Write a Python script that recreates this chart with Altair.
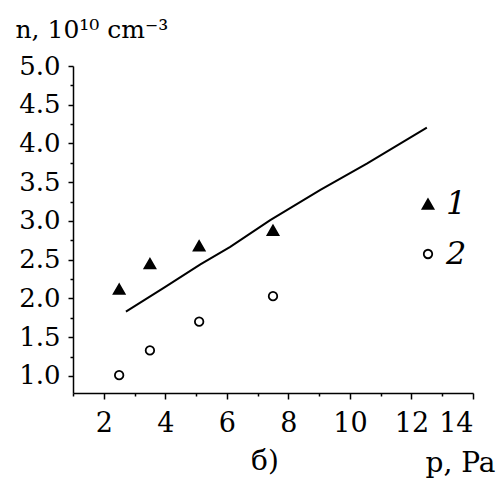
import altair as alt
import pandas as pd

# ---- data ----
p_series1 = [2.5, 3.5, 5.1, 7.5]
n_series1 = [2.12, 2.45, 2.68, 2.88]
p_series2 = [2.5, 3.5, 5.1, 7.5]
n_series2 = [1.01, 1.33, 1.70, 2.03]
series_names = ["1", "2"]

p_fit = [2.72, 4.0, 5.14, 6.11, 7.41, 9.04, 10.55, 12.5]
n_fit = [1.83, 2.15, 2.44, 2.665, 3.01, 3.40, 3.74, 4.205]

x_major = [2, 4, 6, 8, 10, 12, 14]
x_minor = [1, 3, 5, 7, 9, 11, 13]
y_major = [1.0, 1.5, 2.0, 2.5, 3.0, 3.5, 4.0, 4.5, 5.0]
y_minor = [1.25, 1.75, 2.25, 2.75, 3.25, 3.75, 4.25, 4.75]

points = pd.DataFrame({
    "p": p_series1 + p_series2,
    "n": n_series1 + n_series2,
    "series": [series_names[0]] * len(p_series1) + [series_names[1]] * len(p_series2),
})
fit = pd.DataFrame({"p": p_fit, "n": n_fit})

FONT = "DejaVu Serif"
xscale = alt.Scale(domain=[1, 14], nice=False, zero=False)
yscale = alt.Scale(domain=[0.78, 5.0], nice=False, zero=False)

x_axis = alt.Axis(
    values=x_major, format="d", orient="bottom", grid=False,
    tickSize=6, tickWidth=1.5, tickColor="black",
    domainColor="black", domainWidth=1.5,
    labelFont=FONT, labelFontSize=27, labelColor="black", labelPadding=11,
    title="p, Pa", titleFont=FONT, titleFontSize=28, titleFontWeight="normal",
    titleColor="black", titleX=422, titleY=78, titleAlign="right",
    titleBaseline="alphabetic",
)
y_axis = alt.Axis(
    values=y_major, format=".1f", orient="left", grid=False,
    tickSize=5, tickWidth=1.5, tickColor="black",
    domainColor="black", domainWidth=1.5,
    labelFont=FONT, labelFontSize=26, labelColor="black", labelPadding=8,
    title="n, 10¹⁰ cm⁻³", titleFont=FONT, titleFontSize=25,
    titleFontWeight="normal", titleColor="black", titleAngle=0,
    titleX=-58, titleY=-29, titleAlign="left", titleBaseline="alphabetic",
)
x_minor_axis = alt.Axis(
    values=x_minor, labels=False, domain=False, orient="bottom", grid=False,
    tickSize=3, tickWidth=1.5, tickColor="black", title=None,
)
y_minor_axis = alt.Axis(
    values=y_minor, labels=False, domain=False, orient="left", grid=False,
    tickSize=3, tickWidth=1.5, tickColor="black", title=None,
)

pts = alt.Chart(points).mark_point(
    filled=True, strokeWidth=1.8, opacity=1
).encode(
    x=alt.X("p:Q", scale=xscale, axis=x_axis),
    y=alt.Y("n:Q", scale=yscale, axis=y_axis),
    shape=alt.Shape("series:N", scale=alt.Scale(domain=series_names, range=["triangle-up", "circle"]), title=None),
    fill=alt.Fill("series:N", scale=alt.Scale(domain=series_names, range=["black", "white"]), title=None),
    stroke=alt.Stroke("series:N", scale=alt.Scale(domain=series_names, range=["black", "black"]), title=None),
    size=alt.Size("series:N", scale=alt.Scale(domain=series_names, range=[120, 72]), title=None),
)

line = alt.Chart(fit).mark_line(color="black", strokeWidth=2).encode(
    x=alt.X("p:Q", scale=xscale, axis=x_minor_axis),
    y=alt.Y("n:Q", scale=yscale, axis=y_minor_axis),
)

chart = alt.layer(pts, line).resolve_axis(x="independent", y="independent").properties(
    width=400,
    height=327,
    autosize=alt.AutoSizeParams(type="none"),
    padding={"left": 65, "top": 58, "right": 23, "bottom": 87},
    background="white",
    title=alt.TitleParams(
        "б)", orient="bottom", anchor="middle", frame="group",
        font=FONT, fontSize=28, fontWeight="normal", color="black",
        dx=-8, offset=-29,
    ),
).configure_view(stroke=None).configure_legend(
    orient="none", legendX=339, legendY=122, padding=0,
    labelFont=FONT, labelFontSize=32, labelFontStyle="italic", labelColor="black",
    labelOffset=2, rowPadding=18, symbolStrokeWidth=1.8,
    symbolOpacity=1,
)

chart.save("out.html", embed_options={"renderer": "svg", "actions": False})
